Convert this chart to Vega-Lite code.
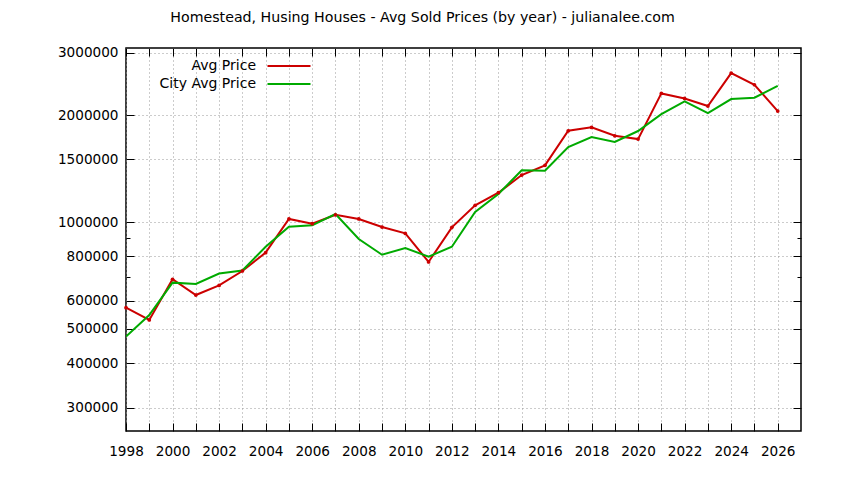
{
  "$schema": "https://vega.github.io/schema/vega-lite/v6.json",
  "width": 675,
  "height": 383,
  "autosize": "none",
  "padding": {"left": 126, "top": 48, "right": 43, "bottom": 49},
  "background": "white",
  "title": {
    "text": "Homestead, Husing Houses - Avg Sold Prices (by year) - julianalee.com",
    "font": "DejaVu Sans",
    "fontSize": 14.2,
    "fontWeight": "normal",
    "color": "black",
    "anchor": "middle",
    "frame": "group",
    "dx": -41,
    "offset": 20
  },
  "data": {
    "values": [
      {"year": 1998, "series": "Avg Price", "price": 574000},
      {"year": 1999, "series": "Avg Price", "price": 530000},
      {"year": 2000, "series": "Avg Price", "price": 690000},
      {"year": 2001, "series": "Avg Price", "price": 623000},
      {"year": 2002, "series": "Avg Price", "price": 663000},
      {"year": 2003, "series": "Avg Price", "price": 728000},
      {"year": 2004, "series": "Avg Price", "price": 820000},
      {"year": 2005, "series": "Avg Price", "price": 1020000},
      {"year": 2006, "series": "Avg Price", "price": 989000},
      {"year": 2007, "series": "Avg Price", "price": 1048000},
      {"year": 2008, "series": "Avg Price", "price": 1020000},
      {"year": 2009, "series": "Avg Price", "price": 968000},
      {"year": 2010, "series": "Avg Price", "price": 929000},
      {"year": 2011, "series": "Avg Price", "price": 772000},
      {"year": 2012, "series": "Avg Price", "price": 966000},
      {"year": 2013, "series": "Avg Price", "price": 1114000},
      {"year": 2014, "series": "Avg Price", "price": 1209000},
      {"year": 2015, "series": "Avg Price", "price": 1356000},
      {"year": 2016, "series": "Avg Price", "price": 1444000},
      {"year": 2017, "series": "Avg Price", "price": 1807000},
      {"year": 2018, "series": "Avg Price", "price": 1847000},
      {"year": 2019, "series": "Avg Price", "price": 1749000},
      {"year": 2020, "series": "Avg Price", "price": 1712000},
      {"year": 2021, "series": "Avg Price", "price": 2302000},
      {"year": 2022, "series": "Avg Price", "price": 2228000},
      {"year": 2023, "series": "Avg Price", "price": 2121000},
      {"year": 2024, "series": "Avg Price", "price": 2626000},
      {"year": 2025, "series": "Avg Price", "price": 2435000},
      {"year": 2026, "series": "Avg Price", "price": 2053000},
      {"year": 1998, "series": "City Avg Price", "price": 476000},
      {"year": 1999, "series": "City Avg Price", "price": 547000},
      {"year": 2000, "series": "City Avg Price", "price": 675000},
      {"year": 2001, "series": "City Avg Price", "price": 669000},
      {"year": 2002, "series": "City Avg Price", "price": 716000},
      {"year": 2003, "series": "City Avg Price", "price": 730000},
      {"year": 2004, "series": "City Avg Price", "price": 852000},
      {"year": 2005, "series": "City Avg Price", "price": 970000},
      {"year": 2006, "series": "City Avg Price", "price": 979000},
      {"year": 2007, "series": "City Avg Price", "price": 1053000},
      {"year": 2008, "series": "City Avg Price", "price": 896000},
      {"year": 2009, "series": "City Avg Price", "price": 809000},
      {"year": 2010, "series": "City Avg Price", "price": 845000},
      {"year": 2011, "series": "City Avg Price", "price": 799000},
      {"year": 2012, "series": "City Avg Price", "price": 852000},
      {"year": 2013, "series": "City Avg Price", "price": 1067000},
      {"year": 2014, "series": "City Avg Price", "price": 1199000},
      {"year": 2015, "series": "City Avg Price", "price": 1398000},
      {"year": 2016, "series": "City Avg Price", "price": 1394000},
      {"year": 2017, "series": "City Avg Price", "price": 1626000},
      {"year": 2018, "series": "City Avg Price", "price": 1735000},
      {"year": 2019, "series": "City Avg Price", "price": 1680000},
      {"year": 2020, "series": "City Avg Price", "price": 1804000},
      {"year": 2021, "series": "City Avg Price", "price": 2013000},
      {"year": 2022, "series": "City Avg Price", "price": 2185000},
      {"year": 2023, "series": "City Avg Price", "price": 2026000},
      {"year": 2024, "series": "City Avg Price", "price": 2219000},
      {"year": 2025, "series": "City Avg Price", "price": 2238000},
      {"year": 2026, "series": "City Avg Price", "price": 2418000}
    ]
  },
  "encoding": {
    "x": {
      "field": "year",
      "type": "quantitative",
      "scale": {"domain": [1998, 2027], "nice": false, "zero": false}
    },
    "y": {
      "field": "price",
      "type": "quantitative",
      "scale": {"type": "log", "domain": [258000, 3090000], "nice": false}
    }
  },
  "layer": [
    {
      "mark": {"type": "line", "strokeWidth": 2, "clip": true},
      "encoding": {
        "x": {
          "field": "year",
          "type": "quantitative",
          "title": null,
          "axis": {
            "orient": "bottom",
            "values": [1998, 1999, 2000, 2001, 2002, 2003, 2004, 2005, 2006, 2007, 2008, 2009, 2010, 2011, 2012, 2013, 2014, 2015, 2016, 2017, 2018, 2019, 2020, 2021, 2022, 2023, 2024, 2025, 2026],
            "labelExpr": "datum.value % 2 == 0 ? format(datum.value, 'd') : ''",
            "grid": true,
            "gridDash": [1, 3],
            "gridColor": "#999999",
            "gridWidth": 1,
            "domain": false,
            "tickSize": -8,
            "tickColor": "black",
            "labelPadding": 21,
            "labelFont": "DejaVu Sans",
            "labelFontSize": 13.6,
            "labelColor": "black",
            "labelFlush": false,
            "labelOverlap": false
          }
        },
        "y": {
          "field": "price",
          "type": "quantitative",
          "title": null,
          "axis": {
            "orient": "left",
            "values": [300000, 400000, 500000, 600000, 700000, 800000, 900000, 1000000, 1500000, 2000000, 3000000],
            "labelExpr": "datum.value == 700000 || datum.value == 900000 ? '' : format(datum.value, 'd')",
            "grid": true,
            "gridDash": [1, 3],
            "gridColor": "#999999",
            "gridWidth": 1,
            "gridOpacity": {"condition": {"test": "datum.value == 700000 || datum.value == 900000", "value": 0}, "value": 1},
            "tickSize": {"condition": {"test": "datum.value == 700000 || datum.value == 900000", "value": -4}, "value": -8},
            "domain": false,
            "tickColor": "black",
            "labelPadding": 16,
            "labelFont": "DejaVu Sans",
            "labelFontSize": 13.6,
            "labelColor": "black",
            "labelFlush": false,
            "labelOverlap": false
          }
        },
        "color": {
          "field": "series",
          "type": "nominal",
          "scale": {"domain": ["Avg Price", "City Avg Price"], "range": ["#cc0000", "#00aa00"]},
          "legend": {
            "title": null,
            "orient": "none",
            "legendX": 152,
            "legendY": 7,
            "padding": 0,
            "rowPadding": 0,
            "symbolType": "M-2.15,0H2.15",
            "symbolSize": 400,
            "symbolStrokeWidth": 2,
            "labelAlign": "right",
            "labelOffset": -44,
            "labelFont": "DejaVu Sans",
            "labelFontSize": 14,
            "labelColor": "black",
            "labelLimit": 300
          }
        }
      }
    },
    {
      "transform": [{"filter": "datum.series == 'Avg Price'"}],
      "mark": {"type": "point", "filled": true, "size": 14, "color": "#cc0000", "opacity": 1},
      "encoding": {
        "x": {"field": "year", "type": "quantitative", "axis": null},
        "y": {"field": "price", "type": "quantitative", "axis": null}
      }
    },
    {
      "mark": {"type": "line", "opacity": 0},
      "encoding": {
        "x": {
          "field": "year",
          "type": "quantitative",
          "title": null,
          "axis": {
            "orient": "top",
            "values": [1998, 1999, 2000, 2001, 2002, 2003, 2004, 2005, 2006, 2007, 2008, 2009, 2010, 2011, 2012, 2013, 2014, 2015, 2016, 2017, 2018, 2019, 2020, 2021, 2022, 2023, 2024, 2025, 2026],
            "labels": false,
            "grid": false,
            "domain": false,
            "tickSize": -8,
            "tickColor": "black"
          }
        },
        "y": {
          "field": "price",
          "type": "quantitative",
          "title": null,
          "axis": {
            "orient": "right",
            "values": [300000, 400000, 500000, 600000, 700000, 800000, 900000, 1000000, 1500000, 2000000, 3000000],
            "labels": false,
            "grid": false,
            "domain": false,
            "tickSize": {"condition": {"test": "datum.value == 700000 || datum.value == 900000", "value": -4}, "value": -8},
            "tickColor": "black"
          }
        }
      }
    }
  ],
  "resolve": {"axis": {"x": "independent", "y": "independent"}},
  "config": {
    "view": {"stroke": "black", "strokeWidth": 1.5},
    "font": "DejaVu Sans"
  }
}
